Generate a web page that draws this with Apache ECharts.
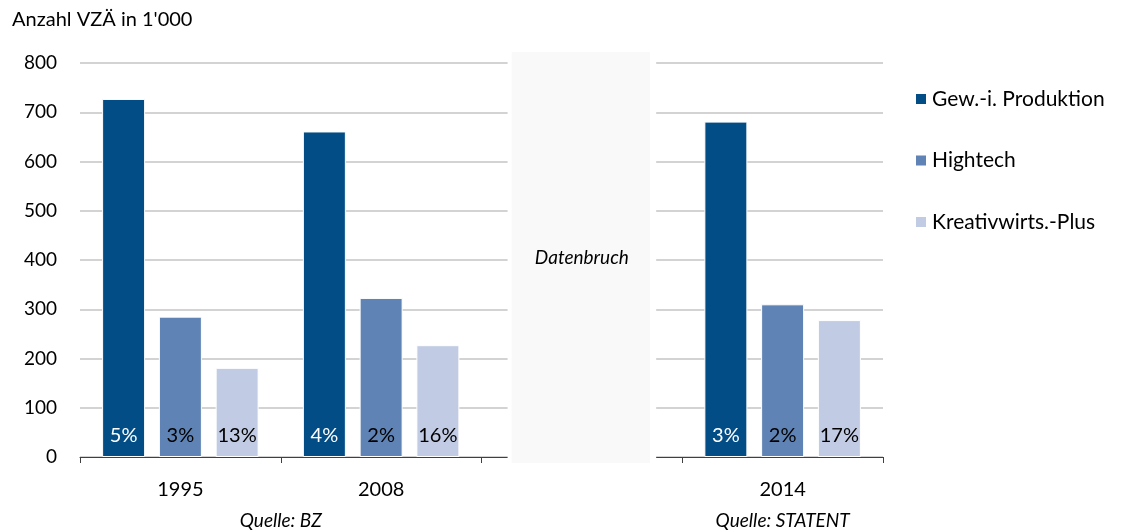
<!DOCTYPE html>
<html>
<head>
<meta charset="utf-8">
<script src="https://cdn.jsdelivr.net/npm/echarts@6/dist/echarts.min.js"></script>
<style>
  html, body { margin: 0; padding: 0; background: #ffffff; }
  #chart { width: 1122px; height: 531px; }
</style>
</head>
<body>
<div id="chart"></div>
<script>
  // Daten (Anzahl VZÄ in 1'000), leere Kategorie = Datenbruch
  const years = ['1995', '2008', '', '2014'];
  const gew = [727, 661, null, 681];
  const hightech = [285, 323, null, 310];
  const kreativ = [181, 227, null, 278];
  // Anteile, die unten in den Balken stehen
  const gewShare = ['5%', '4%', '', '3%'];
  const hightechShare = ['3%', '2%', '', '2%'];
  const kreativShare = ['13%', '16%', '', '17%'];
  const yTicks = [0, 800, 100];

  const font = 'Lato, "Noto Sans", sans-serif';
  const colors = ['#034d87', '#5e83b4', '#c1cbe3'];

  function barSeries(name, data, shares, labelColor) {
    return {
      name: name,
      type: 'bar',
      data: data,
      barWidth: 43,
      barGap: '32%',
      itemStyle: { borderColor: '#ffffff', borderWidth: 1 },
      label: {
        show: true,
        position: 'insideBottom',
        distance: 11,
        color: labelColor,
        fontFamily: font,
        fontSize: 20,
        formatter: function(p) { return shares[p.dataIndex]; }
      }
    };
  }

  const chart = echarts.init(document.getElementById('chart'));
  const option = {
    animation: false,
    color: colors,
    textStyle: { fontFamily: font },
    grid: { left: 80, right: 239, top: 63, bottom: 74 },
    legend: {
      orient: 'vertical',
      left: 914,
      top: 88,
      padding: 0,
      icon: 'rect',
      itemWidth: 12,
      itemHeight: 12,
      itemGap: 39.5,
      textStyle: { color: '#000000', fontSize: 21, lineHeight: 22, fontFamily: font },
      data: ['Gew.-i. Produktion', 'Hightech', 'Kreativwirts.-Plus']
    },
    xAxis: {
      type: 'category',
      data: years,
      axisLine: { lineStyle: { color: '#404040', width: 1 } },
      axisTick: { show: true, length: 6, lineStyle: { color: '#404040' } },
      axisLabel: { color: '#000000', fontSize: 20, margin: 23, fontFamily: font }
    },
    yAxis: {
      type: 'value',
      min: yTicks[0],
      max: yTicks[1],
      interval: yTicks[2],
      axisLine: { show: false },
      axisTick: { show: false },
      axisLabel: { color: '#000000', fontSize: 19, margin: 23, fontFamily: font },
      splitLine: { lineStyle: { color: '#c4c4c4', width: 1.5 } }
    },
    series: [
      barSeries('Gew.-i. Produktion', gew, gewShare, '#ffffff'),
      barSeries('Hightech', hightech, hightechShare, '#000000'),
      barSeries('Kreativwirts.-Plus', kreativ, kreativShare, '#000000')
    ]
  };
  chart.setOption(option);

  // Datenbruch-Feld und Quellen an den Achsen ausrichten
  const px = function(i) { return chart.convertToPixel({ xAxisIndex: 0 }, i); };
  const py = function(v) { return chart.convertToPixel({ yAxisIndex: 0 }, v); };
  const band = px(1) - px(0);
  const gapX = px(2);
  const yTop = py(yTicks[1]);
  const yZero = py(0);

  chart.setOption({
    graphic: [
      {
        type: 'rect', z: 100, silent: true,
        shape: { x: gapX - band * 0.37, y: yTop - 3, width: band * 0.74, height: yZero - yTop + 5 },
        style: { fill: '#ffffff' }
      },
      {
        type: 'rect', z: 101, silent: true,
        shape: { x: gapX - band * 0.35, y: yTop - 11, width: band * 0.69, height: yZero - yTop + 17 },
        style: { fill: '#f9f9f9' }
      },
      {
        type: 'text', z: 102, silent: true,
        x: gapX, y: py(400) - 2,
        style: { text: 'Datenbruch', fontFamily: font, fontStyle: 'italic', fontSize: 19, fill: '#000000', align: 'center', verticalAlign: 'middle' }
      },
      {
        type: 'text', z: 102, silent: true,
        x: (px(0) + px(1)) / 2, y: yZero + 64,
        style: { text: 'Quelle: BZ', fontFamily: font, fontStyle: 'italic', fontSize: 19, fill: '#000000', align: 'center', verticalAlign: 'middle' }
      },
      {
        type: 'text', z: 102, silent: true,
        x: px(3), y: yZero + 64,
        style: { text: 'Quelle: STATENT', fontFamily: font, fontStyle: 'italic', fontSize: 19, fill: '#000000', align: 'center', verticalAlign: 'middle' }
      },
      {
        type: 'text', z: 102, silent: true,
        x: 12, y: 20,
        style: { text: "Anzahl VZÄ in 1'000", fontFamily: font, fontSize: 20, fill: '#000000', align: 'left', verticalAlign: 'middle' }
      }
    ]
  });
</script>
</body>
</html>
